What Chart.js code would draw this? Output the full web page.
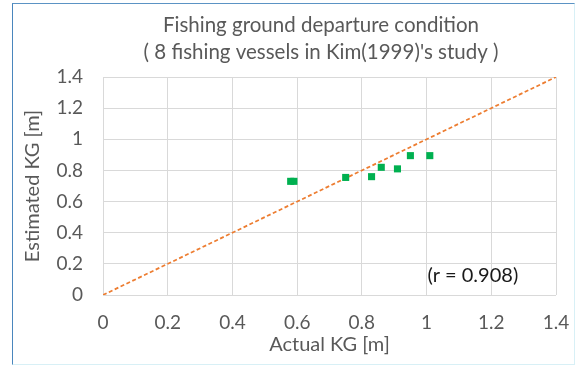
<!DOCTYPE html>
<html>
<head>
<meta charset="utf-8">
<script src="https://cdn.jsdelivr.net/npm/chart.js@4/dist/chart.umd.min.js"></script>
<style>
  html, body { margin: 0; padding: 0; background: #fff; }
  #wrap { position: relative; width: 577px; height: 366px; }
  #frame {
    position: absolute; left: 12px; top: 3px; width: 561px; height: 360px;
    border-left: 1.5px solid #4a86bd; border-top: 1.5px solid #5b93c4;
    border-right: 1px solid #d8f0f6; border-bottom: 1px solid #d8f0f6;
    pointer-events: none;
  }
</style>
</head>
<body>
<div id="wrap">
  <canvas id="myScatter" width="577" height="366"></canvas>
  <div id="frame"></div>
</div>
<script>
// values
const actualKG = [0.58, 0.59, 0.75, 0.83, 0.86, 0.91, 0.95, 1.01];
const estimatedKG = [0.73, 0.73, 0.755, 0.76, 0.82, 0.81, 0.895, 0.895];
const refLineX = [0, 1.4];
const refLineY = [0, 1.4];
const tickLabels = ['0', '0.2', '0.4', '0.6', '0.8', '1', '1.2', '1.4'];
const titleLines = ['Fishing ground departure condition', "( 8 fishing vessels in Kim(1999)'s study )"];
const noteText = '(r = 0.908)';
const noteAt = [1.143, 0.127];

const fontName = 'Lato, "Open Sans", sans-serif';
const grey = '#595959';

// title + r note drawn on the canvas
const textPlugin = {
  id: 'textPlugin',
  afterDraw(chart) {
    const c = chart.ctx;
    c.save();
    c.fillStyle = grey;
    c.textAlign = 'center';
    c.textBaseline = 'middle';
    c.font = '20.5px ' + fontName;
    c.fillText(titleLines[0], 321, 25);
    c.fillText(titleLines[1], 321, 52);
    c.fillStyle = '#1a1a1a';
    c.font = '20px ' + fontName;
    c.fillText(noteText, chart.scales.x.getPixelForValue(noteAt[0]), chart.scales.y.getPixelForValue(noteAt[1]));
    c.restore();
  }
};

var ctx = document.getElementById('myScatter');
new Chart(ctx, {
  type: 'scatter',
  data: {
    datasets: [{
      label: 'Estimated',
      data: actualKG.map((x, i) => ({ x: x, y: estimatedKG[i] })),
      pointStyle: 'rect',
      pointRadius: 5,
      backgroundColor: '#00b050',
      borderColor: '#00b050',
      borderWidth: 0,
      order: 1
    }, {
      label: 'y = x',
      type: 'line',
      data: refLineX.map((x, i) => ({ x: x, y: refLineY[i] })),
      borderColor: '#ed7d31',
      borderWidth: 1.75,
      borderDash: [4, 2.5],
      pointRadius: 0,
      fill: false,
      order: 2
    }]
  },
  options: {
    responsive: false,
    animation: false,
    layout: { padding: { top: 77, right: 21, left: 21, bottom: 9 } },
    plugins: {
      legend: { display: false },
      tooltip: { enabled: false }
    },
    scales: {
      x: {
        type: 'linear',
        min: 0, max: 1.4,
        ticks: {
          stepSize: 0.2,
          color: grey,
          font: { family: fontName, size: 19 },
          padding: 16,
          maxRotation: 0,
          callback: (v, i) => tickLabels[i]
        },
        grid: { color: '#d9d9d9', drawTicks: false },
        border: { display: false },
        title: {
          display: true,
          text: 'Actual KG [m]',
          color: grey,
          font: { family: fontName, size: 20 },
          padding: 0
        },
        afterFit: scale => {
          scale.height = 62;
          scale.paddingLeft = 0;
          scale.paddingRight = 0;
        }
      },
      y: {
        type: 'linear',
        min: 0, max: 1.4,
        ticks: {
          stepSize: 0.2,
          color: grey,
          font: { family: fontName, size: 19 },
          padding: 20,
          callback: (v, i) => tickLabels[i]
        },
        grid: { color: '#d9d9d9', drawTicks: false },
        border: { display: false },
        title: {
          display: true,
          text: 'Estimated KG [m]',
          color: grey,
          font: { family: fontName, size: 20 },
          padding: 0
        },
        afterFit: scale => { scale.width = 82; }
      }
    }
  },
  plugins: [textPlugin]
});
</script>
</body>
</html>
